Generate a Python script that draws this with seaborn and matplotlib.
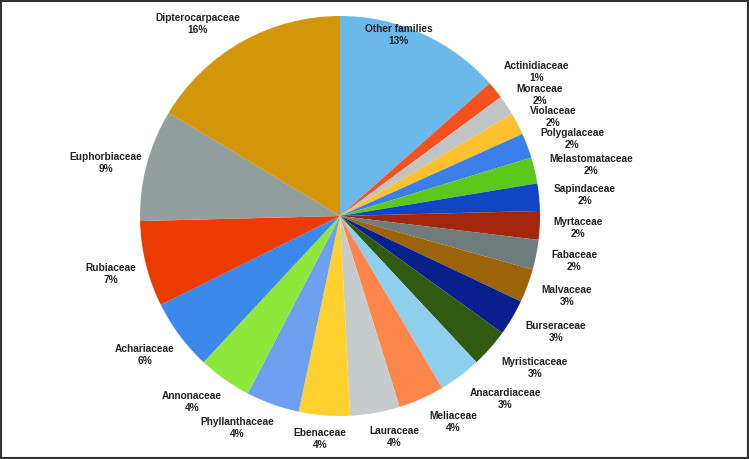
import matplotlib
matplotlib.use("Agg")
import matplotlib.pyplot as plt
from matplotlib.patches import Rectangle
import seaborn as sns

# ---------------- data ----------------
families = ["Other families", "Actinidiaceae", "Moraceae", "Violaceae", "Polygalaceae",
            "Melastomataceae", "Sapindaceae", "Myrtaceae", "Fabaceae", "Malvaceae",
            "Burseraceae", "Myristicaceae", "Anacardiaceae", "Meliaceae", "Lauraceae",
            "Ebenaceae", "Phyllanthaceae", "Annonaceae", "Achariaceae", "Rubiaceae",
            "Euphorbiaceae", "Dipterocarpaceae"]
shares = [13.4, 1.4, 1.6, 1.8, 2.0,
          2.1, 2.2, 2.3, 2.4, 2.7,
          2.9, 3.1, 3.4, 3.7, 4.0,
          4.1, 4.3, 4.3, 5.7, 6.9,
          9.0, 16.3]
pct_labels = ["13%", "1%", "2%", "2%", "2%",
              "2%", "2%", "2%", "2%", "3%",
              "3%", "3%", "3%", "4%", "4%",
              "4%", "4%", "4%", "6%", "7%",
              "9%", "16%"]

# ---------------- style ----------------
colors = ["#6BB9EA", "#F4511E", "#C0C4C4", "#FDC02F", "#3C7EEA",
          "#5CC81B", "#1046C4", "#A3260C", "#6E7C7C", "#9B6408",
          "#0A1F8E", "#2F5A0F", "#8FCFEE", "#FF864B", "#C6CBCB",
          "#FFD12F", "#6DA0F1", "#8DE83B", "#3A89EB", "#EC3B00",
          "#929F9D", "#D4960B"]
# label block centres in pixel coordinates (x from left, y from top)
label_px = [(399, 35), (537, 72), (540, 95), (553, 117), (572, 139),
            (591, 165), (585, 195), (578, 228), (574, 261), (567, 296),
            (556, 332), (535, 368), (505, 399), (453, 422), (394, 437),
            (320, 439), (237, 428), (192, 402), (145, 355), (111, 274),
            (106, 163), (198, 24)]

sns.set_style("white")
plt.rcParams["font.family"] = ["Liberation Sans", "DejaVu Sans"]

W, H = 749, 460
fig = plt.figure(figsize=(W / 100, H / 100), dpi=100)
fig.patch.set_facecolor("white")

cx, cy, r = 340, 217, 200
ax = fig.add_axes([(cx - r) / W, (H - cy - r) / H, 2 * r / W, 2 * r / H])
ax.pie(shares, colors=colors, startangle=90, counterclock=False, radius=1,
       wedgeprops=dict(linewidth=0))
ax.set_xlim(-1, 1)
ax.set_ylim(-1, 1)
ax.set_aspect("auto")
ax.axis("off")

for name, pct, (px, py) in zip(families, pct_labels, label_px):
    fig.text(px / W, 1 - py / H, f"{name}\n{pct}", ha="center", va="center",
             fontsize=7.3, fontweight="bold", color="#222222", linespacing=1.2)

fig.patches.append(Rectangle((1 / W, 1.5 / H), (W - 2.5) / W, (H - 3) / H,
                             transform=fig.transFigure, fill=False,
                             edgecolor="#333333", linewidth=1.5))

fig.savefig("out.png", dpi=100, facecolor="white")
